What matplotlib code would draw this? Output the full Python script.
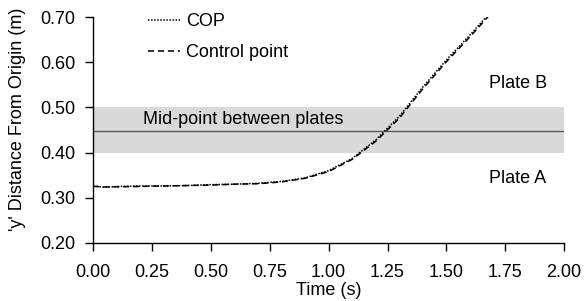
import matplotlib
matplotlib.use("Agg")
from matplotlib import pyplot as plt

plt.rcParams['font.family'] = ['Liberation Sans', 'DejaVu Sans']

# Time samples (s) and y-distances (m)
time_s = [0.00, 0.05, 0.10, 0.20, 0.30, 0.40, 0.50, 0.60, 0.70, 0.80,
          0.90, 1.00, 1.10, 1.20, 1.30, 1.40, 1.50, 1.60, 1.70]
cop_y = [0.326, 0.323, 0.325, 0.326, 0.326, 0.327, 0.329, 0.330, 0.332, 0.336,
         0.344, 0.360, 0.387, 0.428, 0.480, 0.545, 0.605, 0.660, 0.718]
control_y = [0.325, 0.324, 0.324, 0.325, 0.326, 0.327, 0.328, 0.330, 0.331, 0.335,
             0.343, 0.358, 0.385, 0.425, 0.476, 0.541, 0.601, 0.656, 0.714]

band_low, band_high = 0.40, 0.50
mid_point = 0.448

x_ticks = [0.00, 0.25, 0.50, 0.75, 1.00, 1.25, 1.50, 1.75, 2.00]
y_ticks = [0.20, 0.30, 0.40, 0.50, 0.60, 0.70]

fs = 13

fig = plt.figure(figsize=(5.84, 3.01), dpi=100)
ax = fig.add_axes([0.1598, 0.193, 0.806, 0.7505])

ax.axhspan(band_low, band_high, color='#d9d9d9', lw=0, zorder=0)
ax.axhline(mid_point, color='#5a5a5a', lw=1.0, zorder=1)

ax.plot(time_s, cop_y, color='black', lw=1.1, ls=(0, (1, 1)), label='COP', zorder=3)
ax.plot(time_s, control_y, color='black', lw=1.1, ls=(0, (4, 2.5)), label='Control point', zorder=3)

ax.text(0.21, 0.474, 'Mid-point between plates', fontsize=fs, va='center', ha='left')
ax.text(1.68, 0.553, 'Plate B', fontsize=fs, va='center', ha='left')
ax.text(1.68, 0.343, 'Plate A', fontsize=fs, va='center', ha='left')

ax.set_xlim(0, 2.0)
ax.set_ylim(0.20, 0.70)
ax.set_xticks(x_ticks)
ax.set_yticks(y_ticks)
ax.set_xticklabels([f'{v:.2f}' for v in x_ticks])
ax.set_yticklabels([f'{v:.2f}' for v in y_ticks])
ax.tick_params(direction='out', length=6, width=1, labelsize=fs, colors='black')
ax.tick_params(axis='x', pad=9)
ax.tick_params(axis='y', pad=7)
ax.spines['top'].set_visible(False)
ax.spines['right'].set_visible(False)
for s in ('left', 'bottom'):
    ax.spines[s].set_linewidth(1)

ax.set_xlabel('Time (s)', fontsize=fs, labelpad=1)
ax.set_ylabel("'y' Distance From Origin (m)", fontsize=fs)
ax.yaxis.set_label_coords(-0.143, 0.545)

ax.legend(loc='upper left', bbox_to_anchor=(0.116, 1.018), frameon=False,
          fontsize=fs, handlelength=1.8, handletextpad=0.3, labelspacing=0.77,
          borderpad=0, borderaxespad=0)

fig.savefig('out.png', dpi=100)
